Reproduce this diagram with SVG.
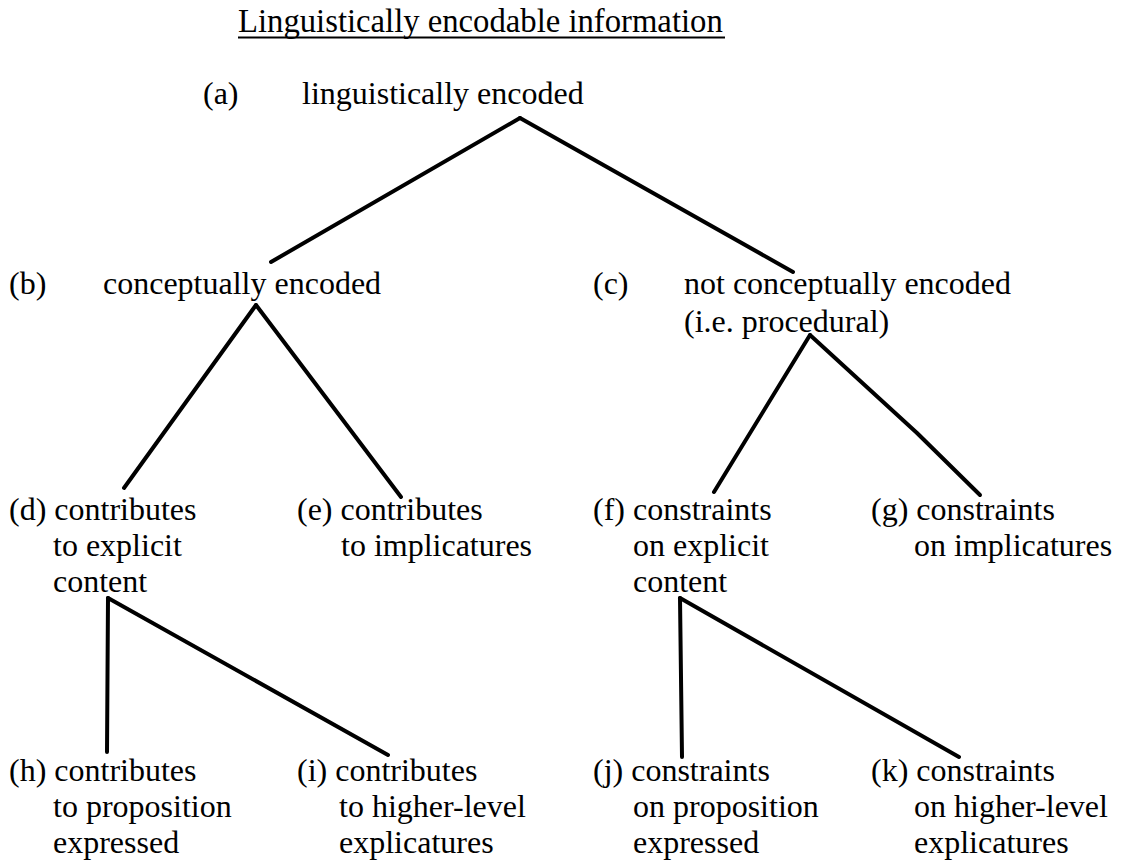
<svg xmlns="http://www.w3.org/2000/svg" width="1139" height="863" viewBox="0 0 1139 863">
<style>
text{font-family:"Liberation Serif","Times New Roman",serif;font-size:32px;fill:#000}
.t{font-size:32.7px}
.c{stroke:#000;stroke-width:4;fill:none;stroke-linecap:round;stroke-linejoin:round}
</style>
<rect width="1139" height="863" fill="#fff"/>
<g id="title">
<text class="t" x="238" y="32">Linguistically encodable information</text>
<line x1="238" y1="37.5" x2="725" y2="37.5" stroke="#000" stroke-width="2"/>
</g>
<g id="connectors">
<line class="c" x1="520" y1="118" x2="271" y2="262" stroke-width="4.5"/>
<line class="c" x1="520" y1="118" x2="793" y2="272" stroke-width="4.5"/>
<line class="c" x1="256" y1="305" x2="124" y2="488"/>
<line class="c" x1="256" y1="305" x2="401" y2="497"/>
<line class="c" x1="810" y1="335" x2="714" y2="492"/>
<polyline class="c" points="810,335 917,433 980,495"/>
<line class="c" x1="108" y1="598" x2="107" y2="752"/>
<line class="c" x1="108" y1="598" x2="388" y2="755"/>
<line class="c" x1="680" y1="598" x2="682" y2="757"/>
<line class="c" x1="680" y1="598" x2="959" y2="757"/>
</g>
<g id="node-a"><text x="203" y="104">(a)</text><text x="302" y="104">linguistically encoded</text></g>
<g id="node-b"><text x="9" y="294">(b)</text><text x="103" y="294">conceptually encoded</text></g>
<g id="node-c"><text x="593" y="294">(c)</text><text x="684" y="294">not conceptually encoded</text><text x="684" y="332">(i.e. procedural)</text></g>
<g id="node-d"><text x="9" y="520">(d) contributes</text><text x="53" y="556">to explicit</text><text x="53" y="592">content</text></g>
<g id="node-e"><text x="297" y="520">(e) contributes</text><text x="341" y="556">to implicatures</text></g>
<g id="node-f"><text x="593" y="520">(f) constraints</text><text x="633" y="556">on explicit</text><text x="633" y="592">content</text></g>
<g id="node-g"><text x="871" y="520">(g) constraints</text><text x="914" y="556">on implicatures</text></g>
<g id="node-h"><text x="9" y="781">(h) contributes</text><text x="53" y="817">to proposition</text><text x="53" y="853">expressed</text></g>
<g id="node-i"><text x="297" y="781">(i) contributes</text><text x="339" y="817">to higher-level</text><text x="339" y="853">explicatures</text></g>
<g id="node-j"><text x="593" y="781">(j) constraints</text><text x="633" y="817">on proposition</text><text x="633" y="853">expressed</text></g>
<g id="node-k"><text x="871" y="781">(k) constraints</text><text x="914" y="817">on higher-level</text><text x="914" y="853">explicatures</text></g>
</svg>
